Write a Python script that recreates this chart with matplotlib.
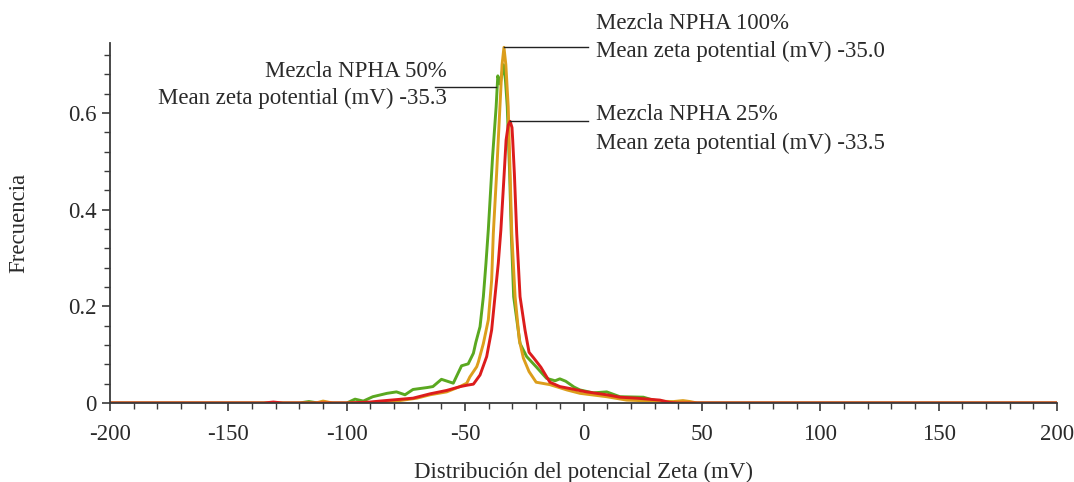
import numpy as np
import matplotlib.pyplot as plt
from matplotlib.ticker import MultipleLocator

plt.rcParams['font.family'] = ['Liberation Serif', 'DejaVu Serif']
plt.rcParams['axes.unicode_minus'] = False

# Mezcla NPHA 50% (green)
x50 = [-200, -120, -116, -112, -100, -96.5, -93, -89, -83, -79, -75.4, -72, -66, -63.6,
       -60, -55, -51.5, -48.7, -46.5, -45.5, -43.7, -42.3, -41.2, -40.2, -38.4, -36.9,
       -36.2, -35.2, -33.8, -33.0, -32.2, -31.2, -30.5, -29.5, -26.8, -24, -20, -15.6,
       -12, -10, -7.5, -4, -1.5, 4.1, 9.8, 15.4, 25.3, 29.4, 36.5, 40, 200]
y50 = [0, 0, 0.003, 0, 0, 0.008, 0.004, 0.013, 0.02, 0.023, 0.017, 0.028, 0.032, 0.034,
       0.049, 0.041, 0.077, 0.081, 0.103, 0.125, 0.158, 0.22, 0.289, 0.359, 0.51, 0.613,
       0.677, 0.66, 0.70, 0.67, 0.613, 0.476, 0.35, 0.22, 0.123, 0.096, 0.075, 0.051,
       0.046, 0.05, 0.045, 0.033, 0.027, 0.021, 0.023, 0.013, 0.012, 0.006, 0.001, 0, 0]

# Mezcla NPHA 100% (orange)
x100 = [-200, -113, -110, -106, -100, -90, -79, -70.4, -64.8, -57.8, -52.2, -49.3, -48,
        -45.1, -44.4, -42.3, -40.2, -38.8, -38.1, -36.7, -35.3, -34.4, -33.6, -32.8, -31.8,
        -31.0, -30.3, -28.9, -27.1, -25.4, -23, -20, -14.2, -7, -1.5, 9.8, 18.2, 29.4, 38,
        42, 45, 48, 200]
y100 = [0, 0, 0.004, 0, 0, 0.001, 0.004, 0.01, 0.017, 0.023, 0.034, 0.041, 0.054,
        0.075, 0.085, 0.123, 0.172, 0.254, 0.35, 0.475, 0.613, 0.70, 0.736, 0.70, 0.613,
        0.475, 0.35, 0.22, 0.13, 0.093, 0.065, 0.043, 0.038, 0.027, 0.02, 0.013, 0.006,
        0.004, 0.003, 0.005, 0.003, 0, 0]

# Mezcla NPHA 25% (red)
x25 = [-200, -135, -131, -127, -100, -90, -86, -72, -64.8, -57.8, -52, -49, -46.5, -43.7,
       -40.9, -38.8, -37.4, -36, -34.9, -33.5, -32.7, -31.8, -31.0, -30.2, -29.9, -29.2,
       -28.2, -26.8, -24.7, -23, -21, -18, -14.2, -10, -5.8, 1.3, 9.8, 15.4, 22.4, 32.3,
       36.5, 40, 200]
y25 = [0, 0, 0.002, 0, 0, 0.002, 0.004, 0.01, 0.019, 0.026, 0.034, 0.037, 0.039, 0.058,
       0.096, 0.151, 0.22, 0.289, 0.358, 0.475, 0.544, 0.575, 0.583, 0.57, 0.544, 0.475,
       0.35, 0.22, 0.151, 0.105, 0.093, 0.074, 0.043, 0.034, 0.03, 0.023, 0.017, 0.012,
       0.01, 0.006, 0.001, 0, 0]

names = ["Mezcla NPHA 50%", "Mezcla NPHA 100%", "Mezcla NPHA 25%"]
means = ["-35.3", "-35.0", "-33.5"]
colors = ["#5aa820", "#dc9e1c", "#dc1c1c"]

fig = plt.figure(figsize=(10.74, 4.82), dpi=100)
ax = fig.add_axes([0.1024, 0.1639, 0.8818, 0.7469])

for xs, ys, c in zip([x50, x100, x25], [y50, y100, y25], colors):
    ax.plot(xs, ys, color=c, lw=2.1, solid_joinstyle='round')

ax.set_xlim(-200, 200)
ax.set_ylim(0, 0.745)
ax.spines['top'].set_visible(False)
ax.spines['right'].set_visible(False)
for s in ['left', 'bottom']:
    ax.spines[s].set_color('#3a3a3a')
    ax.spines[s].set_linewidth(1.3)

ax.xaxis.set_major_locator(MultipleLocator(50))
ax.xaxis.set_minor_locator(MultipleLocator(10))
ax.yaxis.set_major_locator(MultipleLocator(0.2))
ax.yaxis.set_minor_locator(MultipleLocator(0.04))
ax.yaxis.set_major_formatter(lambda v, p: '0' if v == 0 else f'{v:.1f}')
ax.tick_params(which='major', length=6, width=1.2, color='#3a3a3a', labelsize=16.5,
               labelcolor='#2a2a2a')
ax.tick_params(which='minor', length=4, width=1.0, color='#3a3a3a')
ax.tick_params(axis='x', pad=9)

ax.set_xlabel("Distribución del potencial Zeta (mV)", fontsize=16.5, color='#2a2a2a', labelpad=12)
ax.set_ylabel("Frecuencia", fontsize=16.5, color='#2a2a2a', labelpad=28)

fs = 16.5
tc = '#2a2a2a'
# annotations: connector from each peak to its label
xe = 1.9
xt = 5.3
# 100%
i = int(np.argmax(y100))
ax.plot([x100[i], xe], [y100[i], y100[i]], color='#222222', lw=1.0, clip_on=False)
ax.text(xt, 0.786, names[1], fontsize=fs, color=tc, va='center', ha='left', clip_on=False)
ax.text(xt, 0.728, f"Mean zeta potential (mV) {means[1]}", fontsize=fs, color=tc,
        va='center', ha='left', clip_on=False)
# 25%
i = int(np.argmax(y25))
ax.plot([x25[i], xe], [y25[i], y25[i]], color='#222222', lw=1.0)
ax.text(xt, 0.596, names[2], fontsize=fs, color=tc, va='center', ha='left')
ax.text(xt, 0.538, f"Mean zeta potential (mV) {means[2]}", fontsize=fs, color=tc,
        va='center', ha='left')
# 50%
ax.plot([-62.7, -36.8], [0.654, 0.654], color='#222222', lw=1.0)
ax.text(-57.7, 0.687, names[0], fontsize=fs, color=tc, va='center', ha='right')
ax.text(-57.7, 0.631, f"Mean zeta potential (mV) {means[0]}", fontsize=fs, color=tc,
        va='center', ha='right')

fig.savefig("out.png", dpi=100)
